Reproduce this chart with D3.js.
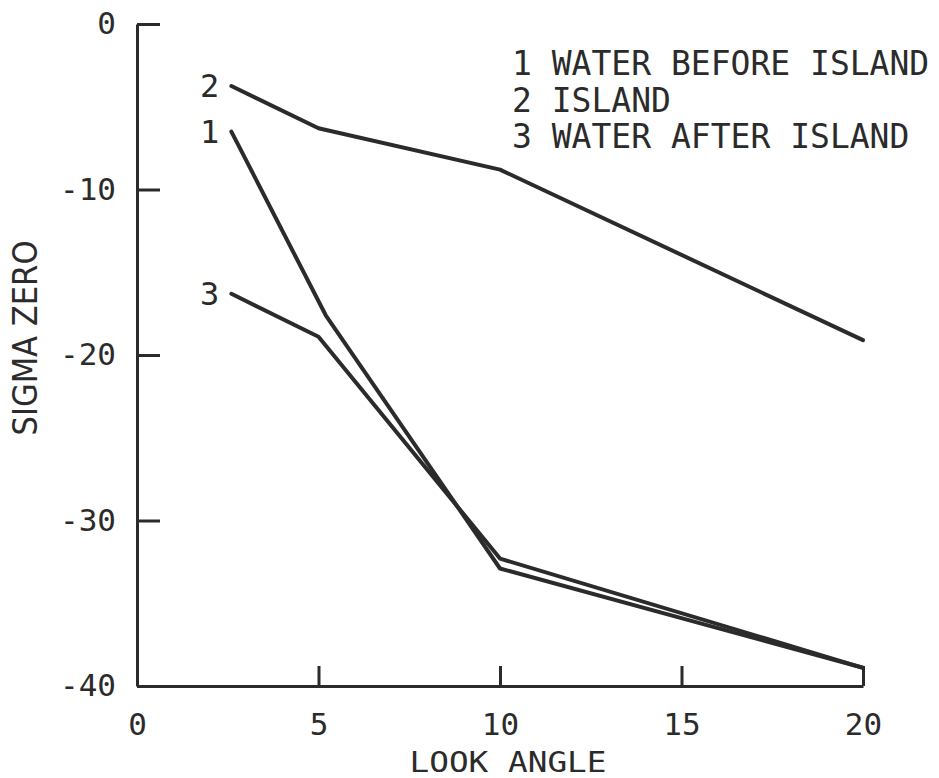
<!DOCTYPE html>
<html>
<head>
<meta charset="utf-8">
<script src="https://cdn.jsdelivr.net/npm/d3@7"></script>
<style>
  html, body { margin: 0; padding: 0; background: #fff; }
  svg { display: block; }
  text { font-family: "DejaVu Sans Mono", monospace; fill: #2b2b2b; }
</style>
</head>
<body>
<svg id="chart" width="939" height="778"></svg>
<script>
// ---- data ----
const seriesIds = ["1", "2", "3"];
const seriesNames = ["WATER BEFORE ISLAND", "ISLAND", "WATER AFTER ISLAND"];
const lookAngle1 = [2.6, 5.2, 10, 20];
const sigma1 = [-6.5, -17.6, -32.9, -38.9];
const lookAngle2 = [2.6, 5, 10, 20];
const sigma2 = [-3.75, -6.3, -8.8, -19.1];
const lookAngle3 = [2.6, 5, 10, 20];
const sigma3 = [-16.3, -18.9, -32.3, -38.9];
const xTicks = [0, 5, 10, 15, 20];
const yTicks = [0, -10, -20, -30, -40];
const xTitle = "LOOK ANGLE";
const yTitle = "SIGMA ZERO";

const series = [
  { id: seriesIds[0], xs: lookAngle1, ys: sigma1 },
  { id: seriesIds[1], xs: lookAngle2, ys: sigma2 },
  { id: seriesIds[2], xs: lookAngle3, ys: sigma3 }
];

const ink = "#2b2b2b";
const svg = d3.select("#chart");

const x = d3.scaleLinear().domain([0, 20]).range([137, 863]);
const y = d3.scaleLinear().domain([0, -40]).range([24, 686]);

// y axis
const yAxis = svg.append("g")
  .attr("transform", `translate(${x(0)},0)`)
  .call(d3.axisLeft(y).tickValues(yTicks).tickSizeInner(-23).tickSizeOuter(0)
        .tickPadding(21).tickFormat(d => String(d)));
yAxis.select(".domain").attr("stroke", ink).attr("stroke-width", 3);
yAxis.selectAll(".tick line").attr("stroke", ink).attr("stroke-width", 3);
yAxis.selectAll(".tick text").attr("font-size", 31).attr("fill", ink);

// x axis
const xAxis = svg.append("g")
  .attr("transform", `translate(0,${y(-40)})`)
  .call(d3.axisBottom(x).tickValues(xTicks).tickSizeInner(-20).tickSizeOuter(0)
        .tickFormat(d => String(d)));
xAxis.select(".domain").attr("stroke", ink).attr("stroke-width", 3);
xAxis.selectAll(".tick line").attr("stroke", ink).attr("stroke-width", 3)
  .attr("opacity", d => d === 0 ? 0 : 1);
xAxis.selectAll(".tick text").attr("font-size", 31).attr("fill", ink)
  .attr("y", 49).attr("dy", 0);

// axis titles
svg.append("text")
  .attr("x", 508).attr("y", 772)
  .attr("text-anchor", "middle")
  .attr("font-size", 29)
  .attr("textLength", 197)
  .attr("lengthAdjust", "spacingAndGlyphs")
  .text(xTitle);

svg.append("text")
  .attr("transform", `translate(37,338) rotate(-90)`)
  .attr("text-anchor", "middle")
  .style("font-family", "'DejaVu Sans', sans-serif")
  .attr("font-size", 33)
  .attr("textLength", 195)
  .attr("lengthAdjust", "spacingAndGlyphs")
  .text(yTitle);

// lines
const line = d3.line().x(d => x(d[0])).y(d => y(d[1]));
svg.selectAll(".series")
  .data(series)
  .join("path")
  .attr("class", "series")
  .attr("fill", "none")
  .attr("stroke", ink)
  .attr("stroke-width", 4)
  .attr("stroke-linejoin", "round")
  .attr("stroke-linecap", "round")
  .attr("d", s => line(s.xs.map((v, i) => [v, s.ys[i]])));

// series labels at line starts
svg.selectAll(".slabel")
  .data(series)
  .join("text")
  .attr("class", "slabel")
  .attr("x", s => x(s.xs[0]) - 12)
  .attr("y", s => y(s.ys[0]) + 11)
  .attr("text-anchor", "end")
  .attr("font-size", 32)
  .text(s => s.id);

// legend
const legend = svg.append("g");
seriesNames.forEach((name, i) => {
  legend.append("text")
    .attr("x", 512)
    .attr("y", 75 + i * 36.5)
    .attr("font-size", 33)
    .text(seriesIds[i] + " " + name);
});
</script>
</body>
</html>
